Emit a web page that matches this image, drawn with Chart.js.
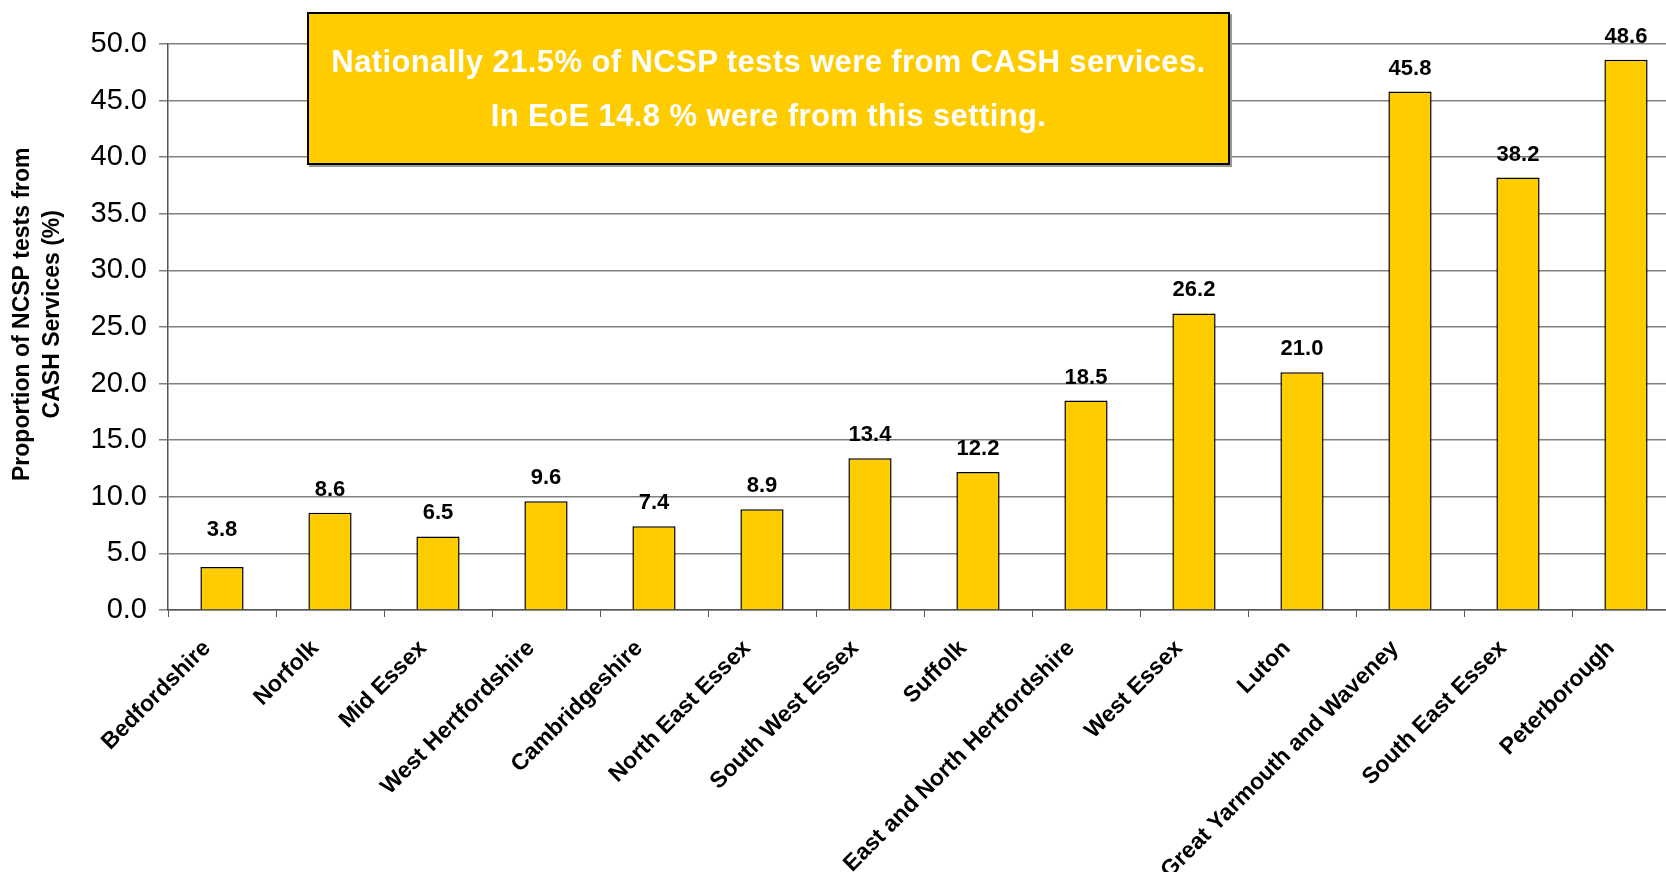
<!DOCTYPE html>
<html>
<head>
<meta charset="utf-8">
<script src="https://cdn.jsdelivr.net/npm/chart.js@4"></script>
<style>
html,body{margin:0;padding:0;width:1666px;height:872px;overflow:hidden;background:#fff;}
#wrap{position:absolute;left:0;top:0;width:1690px;height:872px;}
#note{position:absolute;left:307px;top:12px;width:919px;height:128px;padding-top:21px;background:#FFCC00;border:2px solid #000;box-shadow:2px 2px 0 #999;color:#fff;font-family:"Liberation Sans",Arial,sans-serif;font-weight:bold;font-size:31px;letter-spacing:0.4px;text-align:center;line-height:54px;box-sizing:content-box;white-space:nowrap;}
</style>
</head>
<body>
<div id="wrap"><canvas id="c"></canvas></div>
<div id="note">Nationally 21.5% of NCSP tests were from CASH services.<br>In EoE 14.8 % were from this setting.</div>
<script>
const categories = ["Bedfordshire","Norfolk","Mid Essex","West Hertfordshire","Cambridgeshire","North East Essex","South West Essex","Suffolk","East and North Hertfordshire","West Essex","Luton","Great Yarmouth and Waveney","South East Essex","Peterborough"];
const values = [3.8, 8.6, 6.5, 9.6, 7.4, 8.9, 13.4, 12.2, 18.5, 26.2, 21.0, 45.8, 38.2, 48.6];
const yTitle = ["    Proportion of NCSP tests from","    CASH Services (%)"];

const FONT = '"Liberation Sans", Arial, sans-serif';

const valueLabels = {
  id: 'valueLabels',
  afterDatasetsDraw(chart) {
    const ctx = chart.ctx;
    const meta = chart.getDatasetMeta(0);
    const base = chart.scales.y.getPixelForValue(0);
    ctx.save();
    ctx.font = 'bold 22px ' + FONT;
    ctx.fillStyle = '#000';
    ctx.textAlign = 'center';
    ctx.textBaseline = 'middle';
    meta.data.forEach((bar, i) => {
      const y = Math.min(bar.y - 23, base - 80);
      ctx.fillText(values[i].toFixed(1), bar.x, y);
    });
    ctx.restore();
  }
};

new Chart(document.getElementById('c'), {
  type: 'bar',
  data: {
    labels: categories,
    datasets: [{
      data: values,
      backgroundColor: '#FFCC00',
      borderColor: '#000',
      borderWidth: 1.5,
      barPercentage: 0.4,
      categoryPercentage: 1.0
    }]
  },
  options: {
    responsive: true,
    maintainAspectRatio: false,
    animation: false,
    layout: { padding: { top: 44, right: 10, left: 0, bottom: 0 } },
    plugins: { legend: { display: false }, tooltip: { enabled: false } },
    scales: {
      x: {
        offset: true,
        grid: { offset: true, drawOnChartArea: false, drawTicks: true, tickLength: 7, color: '#555', lineWidth: 1 },
        border: { color: '#555', width: 1.5 },
        ticks: {
          autoSkip: false, minRotation: 45, maxRotation: 45, padding: 18, labelOffset: -15,
          color: '#000',
          font: { family: FONT, size: 23, weight: 'bold' }
        },
        afterFit(scale) { scale.height = 262; }
      },
      y: {
        min: 0, max: 50,
        ticks: {
          stepSize: 5, color: '#000', padding: 12,
          font: { family: FONT, size: 29 },
          callback: v => Number(v).toFixed(1)
        },
        grid: { color: '#808080', lineWidth: 1.5, tickLength: 9 },
        border: { color: '#555', width: 1.5 },
        title: {
          display: true, text: yTitle, color: '#000',
          font: { family: FONT, size: 23, weight: 'bold', lineHeight: 1.3 },
          padding: { top: 8, bottom: 0 }
        },
        afterFit(scale) { scale.width = 168; }
      }
    }
  },
  plugins: [valueLabels]
});
</script>
</body>
</html>
